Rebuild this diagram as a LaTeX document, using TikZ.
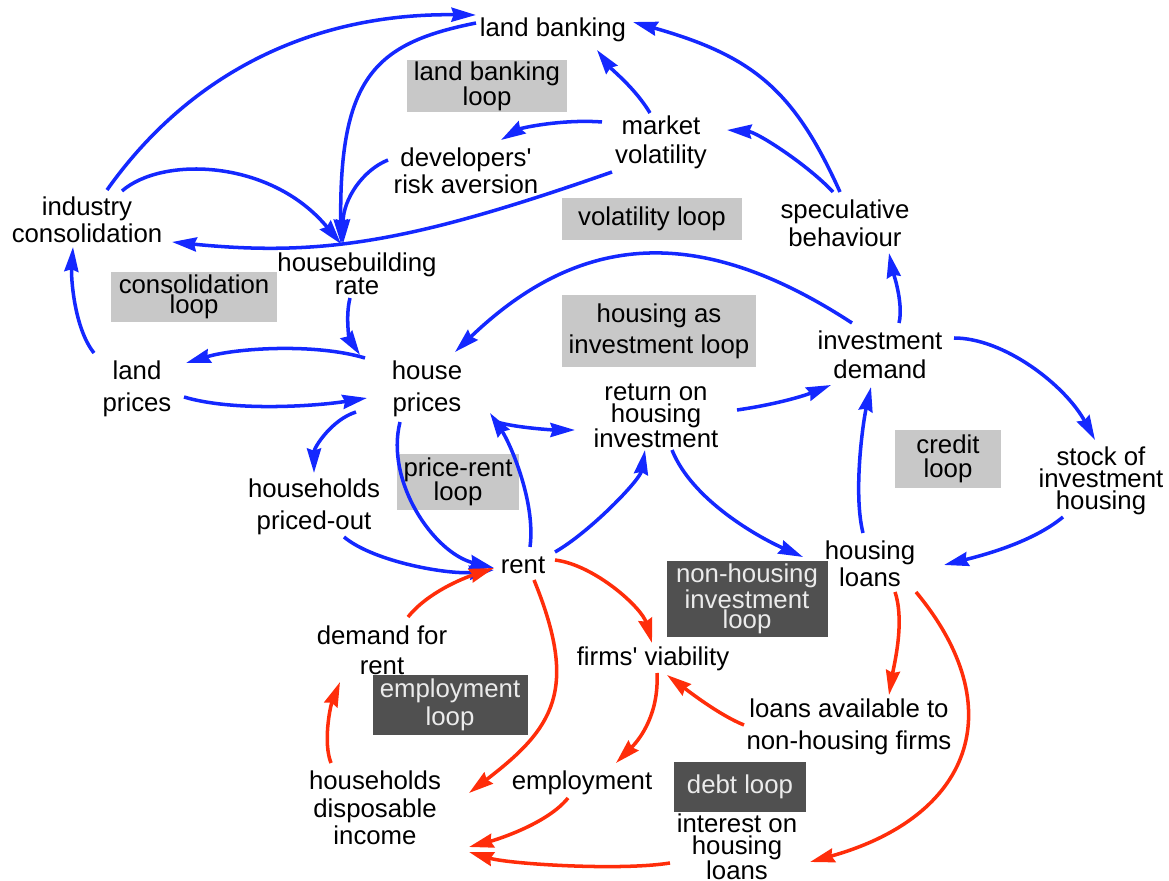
\documentclass[tikz,border=0pt]{standalone}
\usepackage{fontspec}
\setmainfont{Liberation Sans}
\usetikzlibrary{arrows.meta,calc}
\definecolor{cblue}{RGB}{20,40,255}
\definecolor{cred}{RGB}{255,45,10}
\definecolor{lgray}{RGB}{200,200,200}
\definecolor{dgray}{RGB}{80,80,80}
\begin{document}
\begin{tikzpicture}[x=0.03cm,y=-0.03cm,
  vtxt/.style={align=center,inner sep=0pt,font=\fontsize{22}{24}\selectfont},
  vtight/.style={vtxt,font=\fontsize{22}{18.5}\selectfont},
  vloose/.style={vtxt,font=\fontsize{22}{27}\selectfont},
  loopbox/.style={fill=lgray,align=center,inner sep=0pt,font=\fontsize{22}{20.5}\selectfont},
  darkbox/.style={loopbox,fill=dgray,text=white!92!black},
  bluelink/.style={cblue,line width=3pt,-{Stealth[length=21pt,width=12pt,inset=2pt]}},
  redlink/.style={bluelink,cred}]
\useasboundingbox (0,0) rectangle (1169,881);
%loops
\node[loopbox,minimum width=4.8cm,minimum height=1.56cm] (lbl) at (487,86) {land banking\\loop};
\node[loopbox,minimum width=5.4cm,minimum height=1.26cm] (vl) at (652,219) {volatility loop};
\node[loopbox,minimum width=4.98cm,minimum height=1.5cm,font=\fontsize{22}{16}\selectfont] (cl) at (194,297) {consolidation\\loop};
\node[loopbox,minimum width=5.82cm,minimum height=2.16cm,font=\fontsize{22}{26.5}\selectfont] (hil) at (659,331) {housing as\\investment loop};
\node[loopbox,minimum width=3.2cm,minimum height=1.71cm] (crl) at (948,459) {credit\\loop};
\node[loopbox,minimum width=3.66cm,minimum height=1.65cm,font=\fontsize{22}{21}\selectfont] (prl) at (458,482) {price-rent\\loop};
\node[darkbox,minimum width=4.83cm,minimum height=2.25cm,font=\fontsize{22}{17.5}\selectfont] (nhl) at (747,599) {non-housing\\investment\\loop};
\node[darkbox,minimum width=4.65cm,minimum height=1.8cm,font=\fontsize{22}{24}\selectfont] (el) at (450,705) {employment\\loop};
\node[darkbox,minimum width=3.96cm,minimum height=1.5cm] (dl) at (740,787) {debt loop};
%variables
\node[vtxt] (lb) at (553,30) {land banking};
\node[vtxt,font=\fontsize{22}{24.7}\selectfont] (mv) at (661,142) {market\\volatility};
\node[vtxt,font=\fontsize{22}{23}\selectfont] (dra) at (466,171) {developers\textquotesingle\\risk aversion};
\node[vtxt,font=\fontsize{22}{23}\selectfont] (ic) at (87,220) {industry\\consolidation};
\node[vtxt] (sb) at (845,223) {speculative\\behaviour};
\node[vtxt,font=\fontsize{22}{19.6}\selectfont] (hbr) at (357,274) {housebuilding\\rate};
\node[vtxt,font=\fontsize{22}{24.7}\selectfont] (idm) at (880,355) {investment\\demand};
\node[vloose] (lp) at (137,389) {land\\prices};
\node[vloose] (hp) at (427,389) {house\\prices};
\node[vtight] (rhi) at (656,416) {return on\\housing\\investment};
\node[vtight] (sih) at (1101,481) {stock of\\investment\\housing};
\node[vloose] (hpo) at (314,507) {households\\priced-out};
\node[vtxt] (rent) at (523,565) {rent};
\node[vtxt,font=\fontsize{22}{23}\selectfont] (hl) at (870,564) {housing\\loans};
\node[vtxt,font=\fontsize{22}{25.6}\selectfont] (dfr) at (382,650) {demand for\\rent};
\node[vtxt] (fv) at (653,659) {firms\textquotesingle\ viability};
\node[vloose] (la) at (849,727) {loans available to\\non-housing firms};
\node[vtxt,font=\fontsize{22}{23.5}\selectfont] (hdi) at (375,808) {households\\disposable\\income};
\node[vtxt] (emp) at (582,783) {employment};
\node[vtight] (ihl) at (737,847) {interest on\\housing\\loans};
%blue links
\draw[bluelink] ($(ic)+(20,-30)$) .. controls +(85,-120) and +(-160,-2) .. ($(lb)+(-77,-15)$);
\draw[bluelink] ($(lb)+(-77,-7)$) .. controls +(-100,20) and +(-2,-168) .. ($(hbr)+(-16,-30)$);
\draw[bluelink] ($(ic)+(35,-29)$) .. controls +(40,-35) and +(-70,-85) .. ($(hbr)+(-16,-30)$);
\draw[bluelink] ($(dra)+(-78,-11)$) .. controls +(-25,10) and +(0,-45) .. ($(hbr)+(-14,-30)$);
\draw[bluelink] ($(mv)+(-49,30)$) .. controls +(-200,70) and +(150,15) .. ($(ic)+(85,22)$);
\draw[bluelink] ($(mv)+(-11,-29)$) .. controls +(-15,-25) and +(15,20) .. ($(lb)+(44,20)$);
\draw[bluelink] ($(mv)+(-59,-20)$) .. controls +(-40,-3) and +(20,-12) .. ($(dra)+(35,-31)$);
\draw[bluelink] ($(sb)+(-5,-31)$) .. controls +(-46,-102) and +(120,34) .. ($(lb)+(80,-8)$);
\draw[bluelink] ($(sb)+(-12,-31)$) .. controls +(-25,-27) and +(30,2) .. ($(mv)+(66,-12)$);
\draw[bluelink] ($(idm)+(19,-32)$) .. controls +(5,-20) and +(3,15) .. ($(sb)+(44,30)$);
\draw[bluelink] ($(idm)+(-28,-32)$) .. controls +(-153,-100) and +(125,-120) .. ($(hp)+(28,-37)$);
\draw[bluelink] ($(hbr)+(-7,24)$) .. controls +(-5,20) and +(-10,-15) .. ($(hp)+(-67,-34)$);
\draw[bluelink] ($(hp)+(-62,-31)$) .. controls +(-50,-15) and +(50,-15) .. ($(lp)+(49,-26)$);
\draw[bluelink] ($(lp)+(47,8)$) .. controls +(50,15) and +(-50,8) .. ($(hp)+(-60,9)$);
\draw[bluelink] ($(lp)+(-43,-36)$) .. controls +(-20,-25) and +(-2,30) .. ($(ic)+(-14,27)$);
\draw[bluelink] ($(hp)+(70,33)$) .. controls +(20,6) and +(-20,0) .. ($(rhi)+(-81,14)$);
\draw[bluelink] ($(rent)+(7,-18)$) .. controls +(6,-45) and +(20,30) .. ($(hp)+(63,24)$);
\draw[bluelink] ($(hp)+(-27,33)$) .. controls +(-15,60) and +(-60,-15) .. ($(rent)+(-29,3)$);
\draw[bluelink] ($(hp)+(-71,23)$) .. controls +(-25,8) and +(0,-25) .. ($(hpo)+(0,-34)$);
\draw[bluelink] ($(hpo)+(30,30)$) .. controls +(30,25) and +(-45,5) .. ($(rent)+(-29,5)$);
\draw[bluelink] ($(rent)+(32,-13)$) .. controls +(35,-20) and +(-5,30) .. ($(rhi)+(-11,34)$);
\draw[bluelink] ($(rhi)+(16,34)$) .. controls +(20,50) and +(-45,-20) .. ($(hl)+(-67,-7)$);
\draw[bluelink] ($(rhi)+(81,-6)$) .. controls +(35,-5) and +(-30,12) .. ($(idm)+(-49,30)$);
\draw[bluelink] ($(idm)+(74,-17)$) .. controls +(50,0) and +(-30,-55) .. ($(sih)+(-6,-41)$);
\draw[bluelink] ($(hl)+(-7,-31)$) .. controls +(-10,-40) and +(-8,35) .. ($(idm)+(-9,32)$);
\draw[bluelink] ($(sih)+(-38,36)$) .. controls +(-30,25) and +(40,-10) .. ($(hl)+(74,1)$);
%red links
\draw[redlink] ($(dfr)+(26,-33)$) .. controls +(20,-25) and +(-30,10) .. ($(rent)+(-29,3)$);
\draw[redlink] ($(rent)+(32,-5)$) .. controls +(40,5) and +(-10,-35) .. ($(fv)+(-1,-16)$);
\draw[redlink] ($(rent)+(11,15)$) .. controls +(45,110) and +(85,-65) .. ($(hdi)+(94,-15)$);
\draw[redlink] ($(fv)+(4,14)$) .. controls +(2,40) and +(25,-25) .. ($(emp)+(34,-20)$);
\draw[redlink] ($(la)+(-105,-2)$) .. controls +(-25,-10) and +(20,15) .. ($(fv)+(14,16)$);
\draw[redlink] ($(hl)+(25,28)$) .. controls +(10,30) and +(5,-30) .. ($(la)+(40,-32)$);
\draw[redlink] ($(hl)+(46,28)$) .. controls +(97,117) and +(161,-45) .. ($(ihl)+(73,15)$);
\draw[redlink] ($(emp)+(-14,15)$) .. controls +(-20,25) and +(30,-8) .. ($(hdi)+(94,39)$);
\draw[redlink] ($(ihl)+(-67,16)$) .. controls +(-50,8) and +(40,12) .. ($(hdi)+(94,44)$);
\draw[redlink] ($(hdi)+(-44,-45)$) .. controls +(-8,-20) and +(-10,25) .. ($(dfr)+(-42,32)$);
\end{tikzpicture}
\end{document}
